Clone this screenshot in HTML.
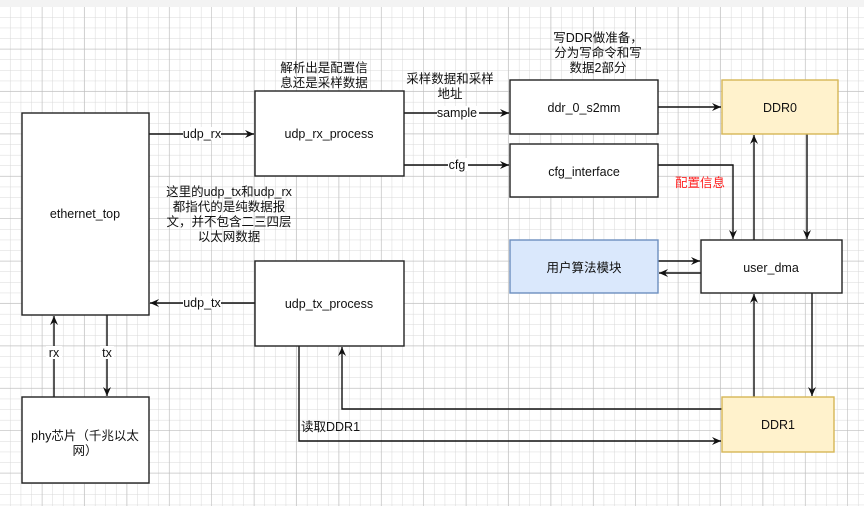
<!DOCTYPE html>
<html><head><meta charset="utf-8"><style>
html,body{margin:0;padding:0;width:864px;height:506px;overflow:hidden;background:#fff}
svg{display:block}
text{font-family:"Liberation Sans","Noto Sans CJK SC",sans-serif;font-size:12.5px;fill:#111}
</style></head><body>
<svg width="864" height="506" viewBox="0 0 864 506" xmlns="http://www.w3.org/2000/svg">
<defs>
<pattern id="minor" width="10.6" height="10.6" patternUnits="userSpaceOnUse" x="0" y="7">
<path d="M10.6 0V10.6H0" fill="none" stroke="#d8d8d8" stroke-width="1"/></pattern>
<pattern id="major" width="42.4" height="42.4" patternUnits="userSpaceOnUse" x="0" y="7">
<path d="M42.4 0V42.4H0" fill="none" stroke="#bdbdbd" stroke-width="1.2"/></pattern>
<marker id="a" markerWidth="10" markerHeight="10" refX="9" refY="5" orient="auto" markerUnits="userSpaceOnUse"><path d="M0,1 L9,5 L0,9 L3,5z" fill="#111"/></marker>
</defs>
<rect x="0" y="0" width="864" height="7" fill="#f3f3f3"/>
<rect x="0" y="7" width="864" height="499" fill="url(#minor)"/>
<rect x="0" y="7" width="864" height="499" fill="url(#major)"/>
<g fill="none" stroke="#111" stroke-width="1.4">
<path d="M149 134H254" marker-end="url(#a)"/>
<path d="M404 113H509" marker-end="url(#a)"/>
<path d="M404 165H509" marker-end="url(#a)"/>
<path d="M658 107H721" marker-end="url(#a)"/>
<path d="M658 165H733V239" marker-end="url(#a)"/>
<path d="M754 240V135" marker-end="url(#a)"/>
<path d="M807 134V239" marker-end="url(#a)"/>
<path d="M658 261H700" marker-end="url(#a)"/>
<path d="M701 273H659" marker-end="url(#a)"/>
<path d="M812 293V396" marker-end="url(#a)"/>
<path d="M754 397V294" marker-end="url(#a)"/>
<path d="M722 409H342V347" marker-end="url(#a)"/>
<path d="M299 346V441H721" marker-end="url(#a)"/>
<path d="M255 303H150" marker-end="url(#a)"/>
<path d="M54 397V316" marker-end="url(#a)"/>
<path d="M107 315V396" marker-end="url(#a)"/>
</g>
<g stroke="#222" stroke-width="1.4" fill="#fff">
<rect x="22" y="113" width="127" height="202"/>
<rect x="255" y="91" width="149" height="85"/>
<rect x="510" y="80" width="148" height="54"/>
<rect x="510" y="144" width="148" height="53"/>
<rect x="701" y="240" width="141" height="53"/>
<rect x="255" y="261" width="149" height="85"/>
<rect x="22" y="397" width="127" height="86"/>
</g>
<rect x="722" y="80" width="116" height="54" fill="#fff2cc" stroke="#d6b656" stroke-width="1.4"/>
<rect x="722" y="397" width="112" height="55" fill="#fff2cc" stroke="#d6b656" stroke-width="1.4"/>
<rect x="510" y="240" width="148" height="53" fill="#dae8fc" stroke="#6c8ebf" stroke-width="1.4"/>
<g text-anchor="middle">
<rect x="183" y="127" width="38" height="13" fill="#fff"/><text x="202" y="138">udp_rx</text>
<rect x="183" y="296" width="38" height="13" fill="#fff"/><text x="202" y="307">udp_tx</text>
<rect x="437" y="106" width="42" height="13" fill="#fff"/><text x="457" y="117" font-size="11.5">sample</text>
<rect x="448" y="158" width="20" height="13" fill="#fff"/><text x="457" y="169" font-size="11.5">cfg</text>
<rect x="46" y="346" width="16" height="13" fill="#fff"/><text x="54" y="357" font-size="11.5">rx</text>
<rect x="100" y="346" width="14" height="13" fill="#fff"/><text x="107" y="357" font-size="11.5">tx</text>
<text x="85" y="218">ethernet_top</text>
<text x="329" y="138">udp_rx_process</text>
<text x="584" y="112">ddr_0_s2mm</text>
<text x="584" y="176">cfg_interface</text>
<text x="780" y="112">DDR0</text>
<text x="771" y="272">user_dma</text>
<text x="584" y="272">用户算法模块</text>
<text x="329" y="308">udp_tx_process</text>
<text x="778" y="429">DDR1</text>
<text x="85" y="440">phy芯片（千兆以太</text>
<text x="85" y="455">网）</text>
<text x="324" y="72">解析出是配置信</text>
<text x="324" y="87">息还是采样数据</text>
<text x="450" y="83">采样数据和采样</text>
<text x="450" y="98">地址</text>
<text x="598" y="42">写DDR做准备，</text>
<text x="598" y="57">分为写命令和写</text>
<text x="598" y="72">数据2部分</text>
<text x="229" y="196">这里的udp_tx和udp_rx</text>
<text x="229" y="211">都指代的是纯数据报</text>
<text x="229" y="226">文，并不包含二三四层</text>
<text x="229" y="241">以太网数据</text>
<text x="700" y="187" style="fill:#ff2020">配置信息</text>
</g>
<text x="301" y="431">读取DDR1</text>
</svg>
</body></html>
